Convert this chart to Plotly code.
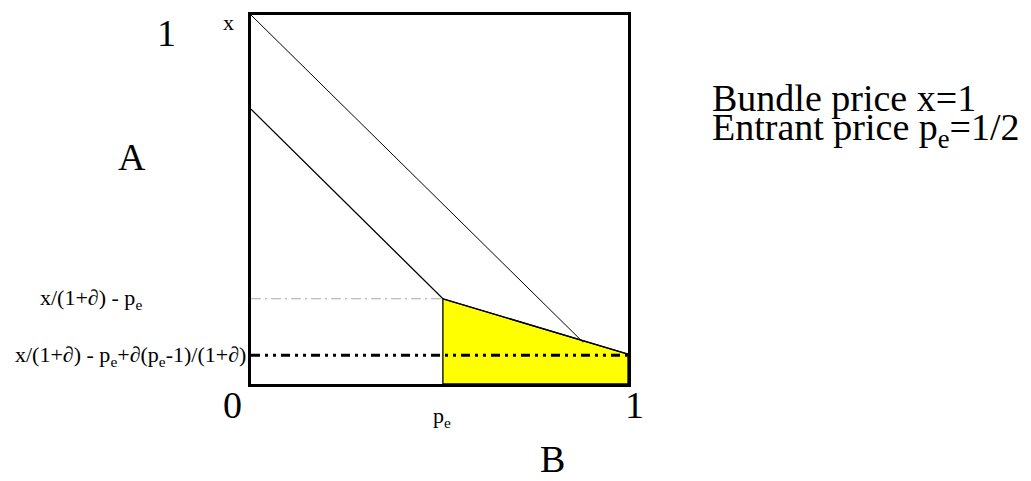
import plotly.graph_objects as go

# ---- data ----
pe = 0.509                      # entrant price position on B axis
upper_line_x = [0.0, 0.881]
upper_line_y = [1.0, 0.113]
lower_line_x = [0.0, 0.509, 1.0]
lower_line_y = [0.745, 0.231, 0.081]
level_1 = 0.231                 # x/(1+d) - pe
level_2 = 0.078                 # x/(1+d) - pe + d(pe-1)/(1+d)
yellow_x = [0.509, 1.0, 1.0, 0.509, 0.509]
yellow_y = [0.231, 0.081, 0.0, 0.0, 0.231]

W, H = 1031, 481
L, R, T, B = 251, 628, 12, 384
SERIF = "Liberation Serif, Times New Roman, serif"
BIG, SMALL = 38, 22

fig = go.Figure()
fig.add_trace(go.Scatter(x=yellow_x, y=yellow_y, mode="lines", fill="toself",
                         fillcolor="#ffff00", line=dict(color="black", width=1.3),
                         hoverinfo="skip"))
fig.add_trace(go.Scatter(x=upper_line_x, y=upper_line_y, mode="lines",
                         line=dict(color="black", width=1), hoverinfo="skip"))
fig.add_trace(go.Scatter(x=lower_line_x, y=lower_line_y, mode="lines",
                         line=dict(color="black", width=1.3), hoverinfo="skip"))
fig.add_trace(go.Scatter(x=[0, pe], y=[level_1, level_1], mode="lines",
                         line=dict(color="#aaaaaa", width=1, dash="10px,4px,2px,4px"),
                         hoverinfo="skip"))
fig.add_trace(go.Scatter(x=[0, 1], y=[level_2, level_2], mode="lines",
                         line=dict(color="black", width=3, dash="9px,5px,3px,5px,3px,5px"),
                         hoverinfo="skip"))


def px(X):
    return (X - L) / (R - L)


def py(Y):
    return (B - Y) / (B - T)


def ann(text, X, Y, size, xanchor="center"):
    fig.add_annotation(text=text, x=px(X), y=py(Y), xref="paper", yref="paper",
                       showarrow=False, xanchor=xanchor, yanchor="middle",
                       font=dict(family=SERIF, size=size, color="black"))


ann("1", 166, 30, BIG)
ann("x", 228, 20, SMALL)
ann("A", 132, 155, BIG)
ann("x/(1+∂) - p<sub>e</sub>", 91, 298, SMALL)
ann("x/(1+∂) - p<sub>e</sub>+∂(p<sub>e</sub>-1)/(1+∂)", 248, 356, SMALL, xanchor="right")
ann("0", 232, 405, BIG)
ann("p<sub>e</sub>", 442, 417, SMALL)
ann("1", 634, 405, BIG)
ann("B", 552, 460, BIG)
ann("Bundle price x=1", 710, 96, BIG, xanchor="left")
ann("Entrant price p<sub>e</sub>=1/2", 710, 128, BIG, xanchor="left")

axis_common = dict(range=[0, 1], showgrid=False, zeroline=False, showticklabels=False,
                   ticks="", showline=True, linecolor="black", linewidth=3, mirror=True,
                   fixedrange=True)
fig.update_xaxes(**axis_common)
fig.update_yaxes(**axis_common)
fig.update_layout(width=W, height=H, margin=dict(l=L, r=W - R, t=T, b=H - B),
                  plot_bgcolor="white", paper_bgcolor="white", showlegend=False)

fig.write_html("out.html", config={"displayModeBar": False},
               post_script="document.body.style.margin='0';"
                           "document.body.style.overflow='hidden';")
